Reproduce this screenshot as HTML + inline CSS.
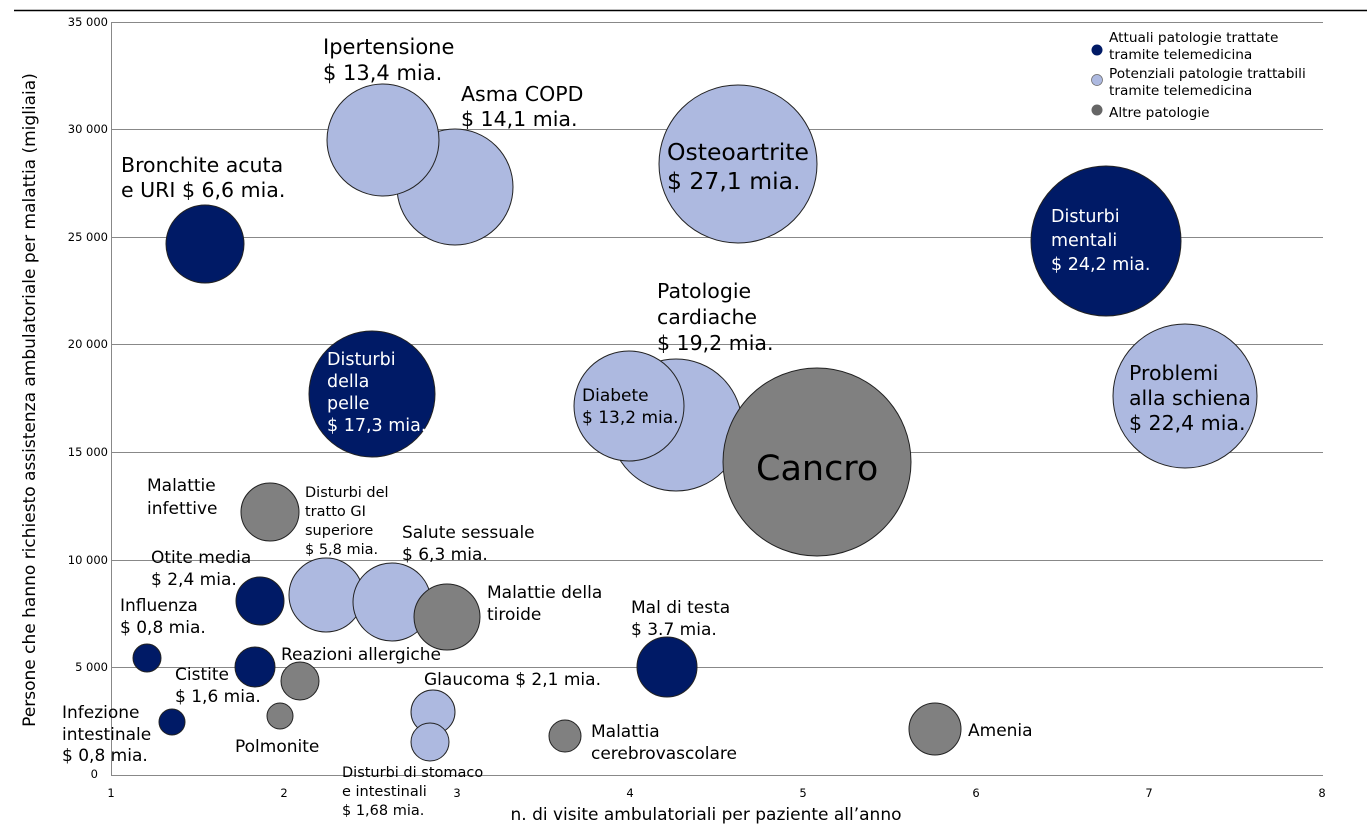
<!DOCTYPE html>
<html><head><meta charset="utf-8"><style>
html,body{margin:0;padding:0;background:#fff;width:1367px;height:834px;overflow:hidden}
svg{display:block;font-family:"DejaVu Sans","Liberation Sans",sans-serif}
.d{fill:#001a66;stroke:#222;stroke-width:1}
.l{fill:#adb9e0;stroke:#222;stroke-width:1}
.g{fill:#808080;stroke:#222;stroke-width:1}
.t{font-size:17px;fill:#000}
.w{font-size:17.5px;fill:#fff}
.k{font-size:11.5px;fill:#000}
</style></head><body>
<svg width="1367" height="834" viewBox="0 0 1367 834">
<line x1="14" y1="10.5" x2="1367" y2="10.5" stroke="#000" stroke-width="1.5"/>
<g stroke="#888" stroke-width="1">
<line x1="111" y1="22.5" x2="1323" y2="22.5"/>
<line x1="111" y1="129.5" x2="1323" y2="129.5"/>
<line x1="111" y1="237.5" x2="1323" y2="237.5"/>
<line x1="111" y1="344.5" x2="1323" y2="344.5"/>
<line x1="111" y1="452.5" x2="1323" y2="452.5"/>
<line x1="111" y1="560.5" x2="1323" y2="560.5"/>
<line x1="111" y1="667.5" x2="1323" y2="667.5"/>
<line x1="111" y1="775.5" x2="1323" y2="775.5"/>
<line x1="111.5" y1="22" x2="111.5" y2="775"/>
</g>
<g class="k" text-anchor="end">
<text x="108" y="26">35 000</text><text x="108" y="133">30 000</text><text x="108" y="241">25 000</text>
<text x="108" y="348">20 000</text><text x="108" y="456">15 000</text><text x="108" y="564">10 000</text>
<text x="108" y="671">5 000</text><text x="98" y="778">0</text>
</g>
<g class="k" text-anchor="middle">
<text x="111" y="797">1</text><text x="284" y="797">2</text><text x="457" y="797">3</text><text x="630" y="797">4</text>
<text x="803" y="797">5</text><text x="976" y="797">6</text><text x="1149" y="797">7</text><text x="1322" y="797">8</text>
</g>
<text class="t" x="706" y="820" text-anchor="middle">n. di visite ambulatoriali per paziente all’anno</text>
<text class="t" transform="translate(35,400) rotate(-90)" text-anchor="middle">Persone che hanno richiesto assistenza ambulatoriale per malattia (migliaia)</text>

<circle class="d" cx="205" cy="244" r="39"/>
<circle class="l" cx="455" cy="187" r="58"/>
<circle class="l" cx="383" cy="140" r="56"/>
<circle class="l" cx="738" cy="164" r="79"/>
<circle class="d" cx="1106" cy="241" r="75"/>
<circle class="l" cx="1185" cy="396" r="72"/>
<circle class="d" cx="372" cy="394" r="63"/>
<circle class="l" cx="676" cy="425" r="66"/>
<circle class="l" cx="629" cy="406" r="55"/>
<circle class="g" cx="817" cy="462" r="94"/>
<circle class="g" cx="270" cy="512" r="29"/>
<circle class="l" cx="326" cy="595" r="37"/>
<circle class="l" cx="392" cy="602" r="39"/>
<circle class="g" cx="447" cy="617" r="33"/>
<circle class="d" cx="260" cy="601" r="24"/>
<circle class="d" cx="147" cy="658" r="14"/>
<circle class="d" cx="255" cy="667" r="20"/>
<circle class="g" cx="300" cy="681" r="19"/>
<circle class="d" cx="172" cy="722" r="13"/>
<circle class="g" cx="280" cy="716" r="13"/>
<circle class="l" cx="433" cy="712" r="22"/>
<circle class="l" cx="430" cy="742" r="19"/>
<circle class="d" cx="667" cy="667" r="30"/>
<circle class="g" cx="565" cy="736" r="16"/>
<circle class="g" cx="935" cy="729" r="26"/>

<g class="t" style="font-size:20.5px">
<text x="323" y="54" style="font-size:21px">Ipertensione</text><text x="323" y="80" style="font-size:21px">$ 13,4 mia.</text>
<text x="461" y="101">Asma COPD</text><text x="461" y="126">$ 14,1 mia.</text>
<text x="121" y="172">Bronchite acuta</text><text x="121" y="197">e URI $ 6,6 mia.</text>
<text x="657" y="298">Patologie</text><text x="657" y="324">cardiache</text><text x="657" y="350">$ 19,2 mia.</text>
<text x="1129" y="380">Problemi</text><text x="1129" y="405">alla schiena</text><text x="1129" y="430">$ 22,4 mia.</text>
</g>
<g class="t" style="font-size:23.5px">
<text x="667" y="160">Osteoartrite</text><text x="667" y="189">$ 27,1 mia.</text>
</g>
<text class="t" x="756" y="480" style="font-size:35px">Cancro</text>
<g class="w">
<text x="1051" y="222">Disturbi</text><text x="1051" y="246">mentali</text><text x="1051" y="270">$ 24,2 mia.</text>
<text x="327" y="365">Disturbi</text><text x="327" y="387">della</text><text x="327" y="409">pelle</text><text x="327" y="431">$ 17,3 mia.</text>
</g>
<g class="t" style="font-size:17px">
<text x="582" y="401">Diabete</text><text x="582" y="423">$ 13,2 mia.</text>
<text x="147" y="491">Malattie</text><text x="147" y="514">infettive</text>
<text x="402" y="538">Salute sessuale</text><text x="402" y="560">$ 6,3 mia.</text>
<text x="151" y="563">Otite media</text><text x="151" y="585">$ 2,4 mia.</text>
<text x="487" y="598">Malattie della</text><text x="487" y="620">tiroide</text>
<text x="120" y="611">Influenza</text><text x="120" y="633">$ 0,8 mia.</text>
<text x="631" y="613">Mal di testa</text><text x="631" y="635">$ 3.7 mia.</text>
<text x="281" y="660">Reazioni allergiche</text>
<text x="175" y="680">Cistite</text><text x="175" y="702">$ 1,6 mia.</text>
<text x="424" y="685">Glaucoma $ 2,1 mia.</text>
<text x="62" y="718">Infezione</text><text x="62" y="740">intestinale</text><text x="62" y="761">$ 0,8 mia.</text>
<text x="235" y="752">Polmonite</text>
<text x="591" y="737">Malattia</text><text x="591" y="759">cerebrovascolare</text>
<text x="968" y="736">Amenia</text>
</g>
<g class="t" style="font-size:14.5px">
<text x="305" y="497">Disturbi del</text><text x="305" y="516">tratto GI</text><text x="305" y="535">superiore</text><text x="305" y="554">$ 5,8 mia.</text>
<text x="342" y="777">Disturbi di stomaco</text><text x="342" y="796">e intestinali</text><text x="342" y="815">$ 1,68 mia.</text>
</g>
<circle cx="1097" cy="50" r="5.5" fill="#001a66"/>
<circle cx="1097" cy="80" r="5.5" fill="#adb9e0" stroke="#666" stroke-width="0.7"/>
<circle cx="1097" cy="110" r="5.5" fill="#666"/>
<g class="t" style="font-size:13.7px">
<text x="1109" y="42">Attuali patologie trattate</text><text x="1109" y="59">tramite telemedicina</text>
<text x="1109" y="78">Potenziali patologie trattabili</text><text x="1109" y="95">tramite telemedicina</text>
<text x="1109" y="117">Altre patologie</text>
</g>
</svg>
</body></html>
